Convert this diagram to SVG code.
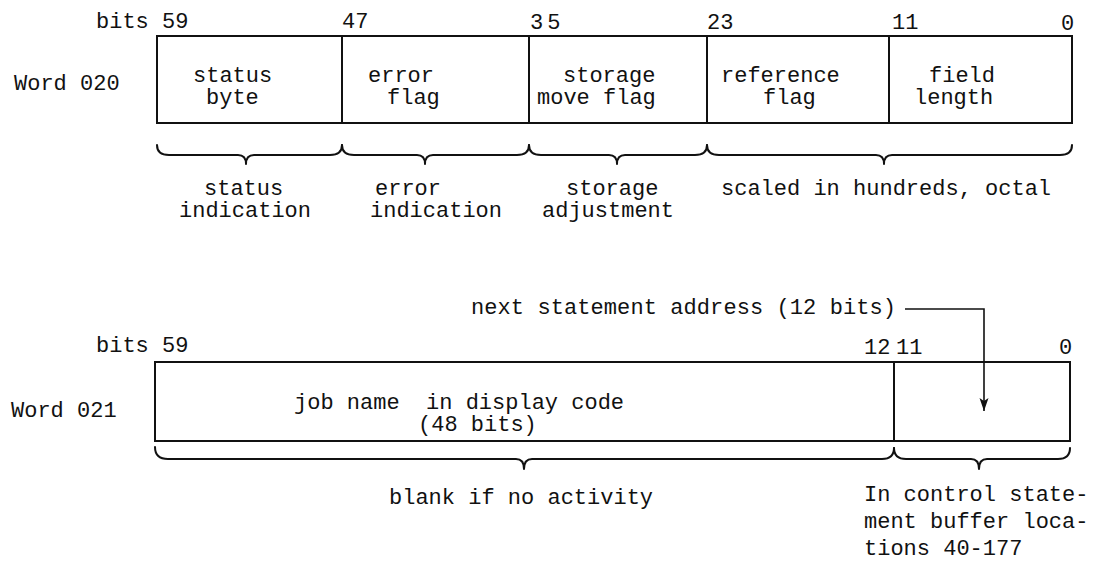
<svg xmlns="http://www.w3.org/2000/svg" width="1113" height="562" viewBox="0 0 1113 562">
<style>
.t { font-family: "Liberation Mono", "DejaVu Sans Mono", monospace; font-size: 22px; fill: #111; }
.box { fill: none; stroke: #111; stroke-width: 2; }
.brace { fill: none; stroke: #111; stroke-width: 2; stroke-linejoin: round; stroke-linecap: round; }
.conn { fill: none; stroke: #111; stroke-width: 1.6; }
</style>
<defs>
<marker id="arrow" viewBox="0 0 13 10" refX="13" refY="5" markerWidth="13" markerHeight="10" markerUnits="userSpaceOnUse" orient="auto">
<path d="M0,0.5 L13,5 L0,9.5 L3,5 Z" fill="#111"/>
</marker>
</defs>
<rect width="1113" height="562" fill="#fff"/>

<!-- Word 020 -->
<g id="word020-label">
<text class="t" x="14" y="90">Word 020</text>
<text class="t" x="96" y="28">bits 59</text>
<text class="t" x="342" y="28">47</text>
<text class="t" x="530" y="29" letter-spacing="4">35</text>
<text class="t" x="707" y="29">23</text>
<text class="t" x="892" y="29">11</text>
<text class="t" x="1061" y="30">0</text>
</g>
<g id="w020-status-byte">
<rect class="box" x="157" y="36" width="185" height="87"/>
<text class="t" x="193" y="82">status</text>
<text class="t" x="206" y="104">byte</text>
</g>
<g id="w020-error-flag">
<rect class="box" x="342" y="36" width="187" height="87"/>
<text class="t" x="368" y="82">error</text>
<text class="t" x="387" y="104">flag</text>
</g>
<g id="w020-storage-move-flag">
<rect class="box" x="529" y="36" width="178" height="87"/>
<text class="t" x="563" y="82">storage</text>
<text class="t" x="537" y="104">move flag</text>
</g>
<g id="w020-reference-flag">
<rect class="box" x="707" y="36" width="182" height="87"/>
<text class="t" x="721" y="82">reference</text>
<text class="t" x="763" y="104">flag</text>
</g>
<g id="w020-field-length">
<rect class="box" x="889" y="36" width="183" height="87"/>
<text class="t" x="929" y="82">field</text>
<text class="t" x="914" y="104">length</text>
</g>

<!-- Word 021 -->
<g id="word021-label">
<text class="t" x="11" y="417">Word 021</text>
<text class="t" x="96" y="352">bits 59</text>
<text class="t" x="864" y="354">12</text>
<text class="t" x="896" y="354">11</text>
<text class="t" x="1059" y="354">0</text>
</g>
<g id="w021-job-name">
<rect class="box" x="155" y="362" width="739" height="79"/>
<text class="t" x="294" y="409" xml:space="preserve">job name  in display code</text>
<text class="t" x="418" y="431">(48 bits)</text>
</g>
<g id="w021-next-statement">
<rect class="box" x="894" y="362" width="176" height="79"/>
</g>
<g id="next-statement-label">
<text class="t" x="471" y="314" textLength="425" lengthAdjust="spacing">next statement address (12 bits)</text>
</g>

<!-- braces and annotations -->
<g id="braces">
<path class="brace" d="M157,145 Q157,155 169,155 L238,155 Q246,155 246,164 Q246,155 254,155 L330,155 Q342,155 342,145"/>
<path class="brace" d="M342,145 Q342,155 354,155 L417,155 Q425,155 425,164 Q425,155 433,155 L517,155 Q529,155 529,145"/>
<path class="brace" d="M529,145 Q529,155 541,155 L609,155 Q617,155 617,164 Q617,155 625,155 L695,155 Q707,155 707,145"/>
<path class="brace" d="M707,145 Q707,155 719,155 L876,155 Q884,155 884,164 Q884,155 892,155 L1060,155 Q1072,155 1072,145"/>
<path class="brace" d="M155,447 Q155,459 168,459 L516,459 Q524,459 524,469 Q524,459 532,459 L882,459 Q894,459 894,448"/>
<path class="brace" d="M894,448 Q894,459 906,459 L971,459 Q979,459 979,469 Q979,459 987,459 L1058,459 Q1070,459 1070,448"/>
</g>
<g id="brace-labels">
<text class="t" x="204" y="195">status</text>
<text class="t" x="179" y="217">indication</text>
<text class="t" x="375" y="195">error</text>
<text class="t" x="370" y="217">indication</text>
<text class="t" x="566" y="195">storage</text>
<text class="t" x="542" y="217">adjustment</text>
<text class="t" x="721" y="195">scaled in hundreds, octal</text>
<text class="t" x="389" y="504">blank if no activity</text>
<text class="t" x="864" y="501">In control state-</text>
<text class="t" x="864" y="528">ment buffer loca-</text>
<text class="t" x="864" y="555">tions 40-177</text>
</g>

<g id="connectors">
<path class="conn" d="M905,309 L984,309 L984,411" marker-end="url(#arrow)"/>
</g>
</svg>
